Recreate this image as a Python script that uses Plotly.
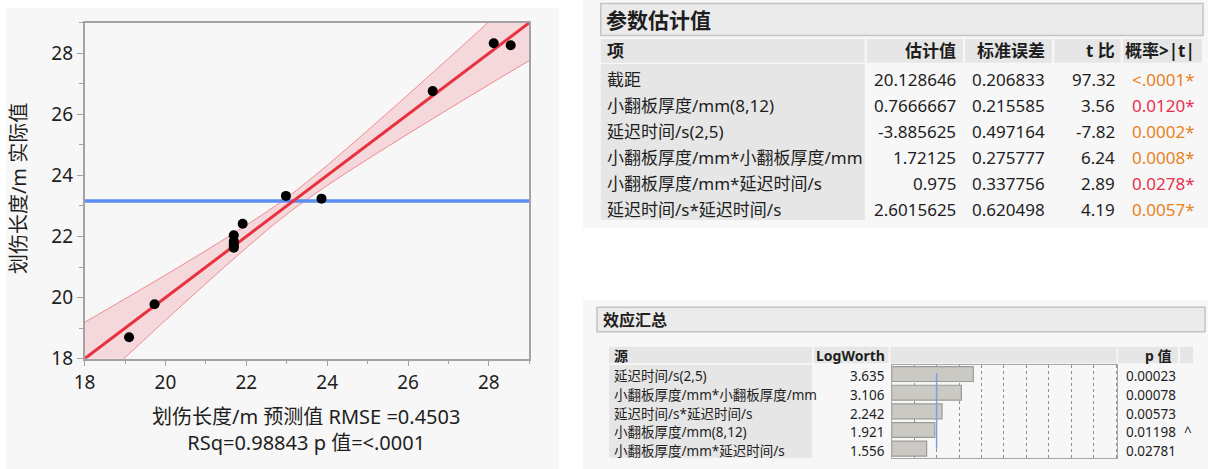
import plotly.graph_objects as go

# ---------------- actual vs predicted (leverage plot) ----------------
pred = [19.10, 19.73, 21.69, 21.69, 21.69, 21.69, 21.69, 21.91, 22.98, 23.86, 26.61, 28.12, 28.54]
actual = [18.70, 19.78, 22.04, 21.84, 21.75, 21.68, 21.63, 22.42, 23.33, 23.24, 26.76, 28.33, 28.26]
mean_actual = 23.16

fit_x = [18, 29]
fit_y = [18, 29]

# confidence curves around the fit
band_x = [18, 19, 20, 21, 22, 23, 24, 25, 26, 27, 28, 29]
band_hi = [19.19, 19.96, 20.74, 21.54, 22.37, 23.27, 24.33, 25.47, 26.64, 27.83, 29.03, 30.24]
band_lo = [16.81, 18.04, 19.26, 20.46, 21.63, 22.73, 23.67, 24.53, 25.36, 26.17, 26.97, 27.76]

x_title = "划伤长度/m 预测值 RMSE =0.4503<br>RSq=0.98843 p 值=<.0001"
y_title = "划伤长度/m 实际值"

# ---------------- parameter estimates ----------------
pe_title = "参数估计值"
pe_headers = ["项", "估计值", "标准误差", "t 比", "概率>|t|"]
pe_terms = ["截距", "小翻板厚度/mm(8,12)", "延迟时间/s(2,5)",
            "小翻板厚度/mm*小翻板厚度/mm", "小翻板厚度/mm*延迟时间/s", "延迟时间/s*延迟时间/s"]
pe_estimate = [20.128646, 0.7666667, -3.885625, 1.72125, 0.975, 2.6015625]
pe_stderr = [0.206833, 0.215585, 0.497164, 0.275777, 0.337756, 0.620498]
pe_tratio = [97.32, 3.56, -7.82, 6.24, 2.89, 4.19]
pe_prob = ["<.0001", "0.0120", "0.0002", "0.0008", "0.0278", "0.0057"]

# ---------------- effect summary ----------------
es_title = "效应汇总"
es_headers = ["源", "LogWorth", "p 值"]
es_source = ["延迟时间/s(2,5)", "小翻板厚度/mm*小翻板厚度/mm", "延迟时间/s*延迟时间/s",
             "小翻板厚度/mm(8,12)", "小翻板厚度/mm*延迟时间/s"]
es_logworth = [3.635, 3.106, 2.242, 1.921, 1.556]
es_pvalue = ["0.00023", "0.00078", "0.00573", "0.01198", "0.02781"]
es_flag = ["", "", "", "^", ""]
es_ref_logworth = 2.0

W, H = 1208, 469
FONT = "Noto Sans, Noto Sans CJK SC, sans-serif"
TXT = "#1e1e1e"


def px(x):
    return x / W


def py(y):
    return 1 - y / H


shapes = []
annotations = []


def rect(x0, y0, x1, y1, fill, line=None, lw=0):
    shapes.append(dict(type="rect", xref="paper", yref="paper", layer="below",
                       x0=px(x0), x1=px(x1), y0=py(y1), y1=py(y0),
                       fillcolor=fill, line=dict(color=line or fill, width=lw)))


def text(x, y, s, size, anchor="left", bold=False, color=TXT):
    annotations.append(dict(xref="paper", yref="paper", x=px(x), y=py(y), text=f"<b>{s}</b>" if bold else s,
                            showarrow=False, xanchor=anchor, yanchor="middle",
                            font=dict(family=FONT, size=size, color=color)))


# panel backgrounds
rect(6, 8, 559, 469, "#f7f7f7")
rect(583, 0, 1208, 228, "#f7f7f7")
rect(583, 300, 1208, 469, "#f7f7f7")

# ---- parameter estimates table ----
rect(600.8, 3.5, 1203, 35.5, "#ebebeb", "#c4c4c4", 1.5)
text(604, 20, pe_title, 21, bold=True)
hdr_cells = [(600.8, 864.8), (866.8, 963), (965, 1052), (1054.4, 1120.8), (1123, 1202)]
for x0, x1 in hdr_cells:
    rect(x0, 39, x1, 62.7, "#e6e6e6")
rect(600.8, 64, 864.8, 220, "#e6e6e6")
col_right = [958, 1047, 1116.8, 1197]
text(604.8, 51, pe_headers[0], 17, bold=True)
for i, h in enumerate(pe_headers[1:]):
    text(col_right[i], 51, h, 17, anchor="right", bold=True)
for i, term in enumerate(pe_terms):
    y = 80 + i * 25.9
    text(604.8, y, term, 17)
    text(col_right[0], y, str(pe_estimate[i]), 17, anchor="right")
    text(col_right[1], y, str(pe_stderr[i]), 17, anchor="right")
    text(col_right[2], y, f"{pe_tratio[i]:.2f}", 17, anchor="right")
    pval = 0.0 if pe_prob[i].startswith("<") else float(pe_prob[i])
    pcol = "#e8821e" if pval < 0.01 else "#e8304c"
    text(col_right[3], y, pe_prob[i] + "*", 17, anchor="right", color=pcol)

# ---- effect summary table ----
rect(597, 307.3, 1205, 331.7, "#ebebeb", "#c4c4c4", 1.5)
text(600.5, 319.5, es_title, 16, bold=True)
for x0, x1 in [(609, 812), (814, 888.5), (890.5, 1116.5), (1118, 1178), (1180, 1193)]:
    rect(x0, 346.7, x1, 363.3, "#e6e6e6")
rect(609, 365, 812, 457.7, "#e6e6e6")
text(612, 355, es_headers[0], 14, bold=True)
text(886.7, 355, es_headers[1], 14, anchor="right", bold=True)
text(1174, 355, es_headers[2], 14, anchor="right", bold=True)
for i, src in enumerate(es_source):
    y = 376.3 + i * 18.65
    text(612, y, src, 13.5)
    text(886.7, y, f"{es_logworth[i]:.3f}", 13.5, anchor="right")
    text(1124.3, y, es_pvalue[i], 13.5)
    if es_flag[i]:
        text(1182, y, es_flag[i], 13.5)

# axis titles
annotations.append(dict(xref="paper", yref="paper", x=px(18.6), y=py(188.5), text=y_title,
                        textangle=-90, showarrow=False, xanchor="center", yanchor="middle",
                        font=dict(family=FONT, size=20, color=TXT)))
annotations.append(dict(xref="paper", yref="paper", x=px(306), y=py(429), text=x_title,
                        showarrow=False, xanchor="center", yanchor="middle",
                        font=dict(family=FONT, size=20, color=TXT)))

fig = go.Figure()

# confidence band
fig.add_trace(go.Scatter(x=band_x, y=band_lo, mode="lines", line=dict(color="#f08a90", width=1, shape="spline"),
                         hoverinfo="skip", showlegend=False))
fig.add_trace(go.Scatter(x=band_x, y=band_hi, mode="lines", line=dict(color="#f08a90", width=1, shape="spline"),
                         fill="tonexty", fillcolor="rgba(240,110,125,0.22)", hoverinfo="skip", showlegend=False))
# mean of response
fig.add_trace(go.Scatter(x=fit_x, y=[mean_actual, mean_actual], mode="lines",
                         line=dict(color="#5b8ef2", width=3.5), showlegend=False))
# fit line
fig.add_trace(go.Scatter(x=fit_x, y=fit_y, mode="lines", line=dict(color="#e8303e", width=3), showlegend=False))
# observations
fig.add_trace(go.Scatter(x=pred, y=actual, mode="markers", marker=dict(color="black", size=10),
                         showlegend=False))

# LogWorth bars
fig.add_trace(go.Bar(x=es_logworth, y=es_source, orientation="h", width=0.8,
                     marker=dict(color="#cbc9c3", line=dict(color="#9c9a94", width=1.2)),
                     xaxis="x2", yaxis="y2", showlegend=False))

# reference line at LogWorth 2 (p = 0.01)
shapes.append(dict(type="line", xref="x2", yref="y2", x0=es_ref_logworth, x1=es_ref_logworth,
                   y0=-0.05, y1=4.0, line=dict(color="#7d9ee0", width=1.5)))

axis_common = dict(showline=True, linecolor="#a3a3a3", linewidth=1.5, mirror=True, showgrid=False,
                   zeroline=False, ticks="outside", ticklen=6, tickwidth=1, tickcolor="#a3a3a3",
                   dtick=2, tick0=18, range=[18, 29],
                   minor=dict(dtick=1, tick0=18, ticks="outside", ticklen=4, tickcolor="#a3a3a3", showgrid=False),
                   tickfont=dict(family=FONT, size=19, color=TXT))

fig.update_layout(
    width=W, height=H, margin=dict(l=0, r=0, t=0, b=0),
    paper_bgcolor="white", plot_bgcolor="white", template="none",
    xaxis=dict(domain=[px(84.6), px(529.3)], anchor="y", **axis_common),
    yaxis=dict(domain=[py(358.7), py(22.7)], anchor="x", **axis_common),
    xaxis2=dict(domain=[px(891.7), px(1117.3)], anchor="y2", range=[0, 10.05], dtick=1,
                showline=True, mirror=True, linecolor="#a8a8a8", linewidth=1,
                showgrid=True, gridcolor="#8f8f8f", griddash="dot", gridwidth=1,
                showticklabels=False, ticks="", zeroline=False),
    yaxis2=dict(domain=[py(458), py(364.7)], anchor="x2", type="category", range=[4.5, -0.5],
                showline=True, mirror=True, linecolor="#a8a8a8", linewidth=1,
                showgrid=False, showticklabels=False, ticks="", zeroline=False),
    shapes=shapes, annotations=annotations,
    showlegend=False,
)

fig.write_html("out.html")
